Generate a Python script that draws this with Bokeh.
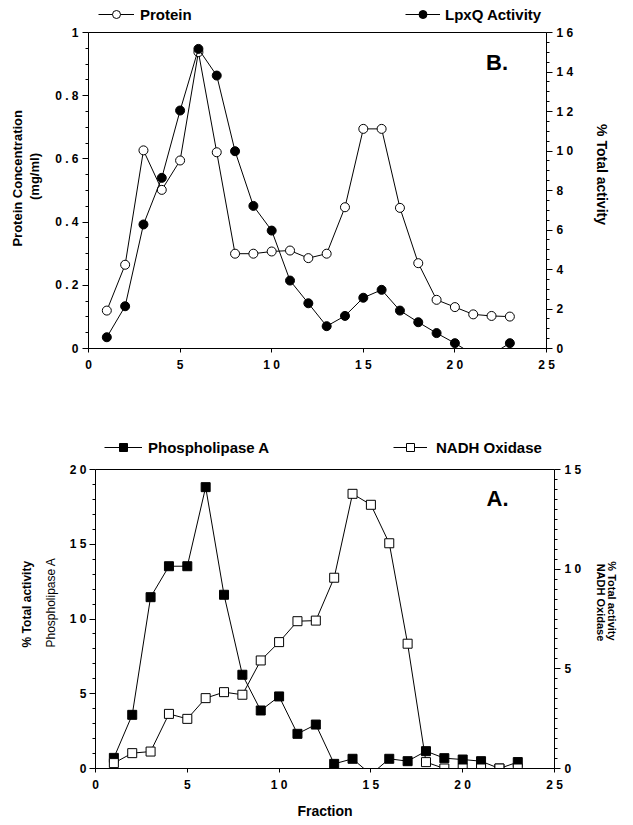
from bokeh.plotting import figure
from bokeh.models import Range1d, LinearAxis, FixedTicker, Legend, LegendItem, Label, Span, Spacer
from bokeh.layouts import column, row
from bokeh.embed import file_html
from bokeh.resources import INLINE

# ---------------- data ----------------
fractions = list(range(1, 24))
protein = [0.12, 0.265, 0.627, 0.502, 0.595, 0.938, 0.621, 0.30, 0.30, 0.307, 0.31, 0.286,
           0.30, 0.447, 0.695, 0.695, 0.445, 0.27, 0.154, 0.131, 0.108, 0.103, 0.101]
lpxq = [0.57, 2.14, 6.28, 8.64, 12.05, 15.17, 13.82, 9.99, 7.22, 5.97, 3.44, 2.29,
        1.13, 1.65, 2.57, 2.97, 1.92, 1.33, 0.78, 0.27, -0.3, -0.3, 0.27]
phospholipase = [0.71, 3.59, 11.46, 13.53, 13.53, 18.82, 11.62, 6.27, 3.88, 4.82, 2.32, 2.94,
                 0.31, 0.65, -0.4, 0.65, 0.49, 1.16, 0.69, 0.60, 0.49, 0.0, 0.43]
nadh = [0.27, 0.77, 0.85, 2.74, 2.49, 3.53, 3.83, 3.70, 5.42, 6.34, 7.39, 7.42,
        9.57, 13.78, 13.23, 11.30, 6.26, 0.32, 0.0, 0.0, 0.0, 0.0, 0.0]

x_ticks = [0, 5, 10, 15, 20, 25]
x_labels = ["0", "5", "1 0", "1 5", "2 0", "2 5"]
prot_ticks = [0, 0.2, 0.4, 0.6, 0.8, 1.0]
prot_labels = ["0", "0 . 2", "0 . 4", "0 . 6", "0 . 8", "1"]
act_ticks = [0, 2, 4, 6, 8, 10, 12, 14, 16]
act_labels = ["0", "2", "4", "6", "8", "1 0", "1 2", "1 4", "1 6"]
pla_ticks = [0, 5, 10, 15, 20]
pla_labels = ["0", "5", "1 0", "1 5", "2 0"]
nadh_ticks = [0, 5, 10, 15]
nadh_labels = ["0", "5", "1 0", "1 5"]

FONT = "Liberation Sans"


def style_axis(ax, ticks, labels, minor, tick_out=6):
    ax.ticker = FixedTicker(ticks=ticks, minor_ticks=minor)
    ax.bounds = (ticks[0], ticks[-1])
    ax.major_label_overrides = dict(zip(ticks, labels))
    ax.major_label_text_font = FONT
    ax.major_label_text_font_style = "bold"
    ax.major_label_text_font_size = "12px"
    ax.major_label_text_color = "black"
    ax.major_label_standoff = 4
    ax.axis_line_color = "black"
    ax.major_tick_line_color = "black"
    ax.minor_tick_line_color = "black"
    ax.major_tick_out = tick_out
    ax.major_tick_in = 0
    ax.minor_tick_out = 3
    ax.minor_tick_in = 0
    ax.axis_label_text_font = FONT
    ax.axis_label_text_font_style = "bold"
    ax.axis_label_text_font_size = "13px"
    ax.axis_label_text_color = "black"


def label_axis(text, standoff, style="bold", size="13px", **kw):
    ax = LinearAxis(ticker=FixedTicker(ticks=[]), axis_line_color=None,
                    major_tick_out=0, major_tick_in=0, minor_tick_out=0, minor_tick_in=0,
                    major_label_text_font_size="0px",
                    axis_label=text, axis_label_standoff=standoff,
                    axis_label_text_font=FONT, axis_label_text_font_style=style,
                    axis_label_text_font_size=size, axis_label_text_color="black", **kw)
    return ax


def make_legend(item, loc, glyph_width=36, standoff=6):
    return Legend(items=[item], location=loc, background_fill_alpha=0, border_line_color=None,
                  padding=0, margin=0, spacing=0, label_text_font=FONT,
                  label_text_font_style="bold", label_text_font_size="15px",
                  label_text_color="black", glyph_width=glyph_width, glyph_height=20,
                  label_standoff=standoff, label_height=20)


# ---------------- top panel (B) ----------------
# frame extends above the data box so the key sits inside it; axes are bounded to the data box
top_plot_h = 316          # pixel height of the 0..1 data box
top_frame_h = 344         # frame incl. key strip
y1_end = top_frame_h / top_plot_h

p1 = figure(frame_width=458, frame_height=top_frame_h, output_backend="svg", toolbar_location=None,
            x_range=Range1d(0, 25), y_range=Range1d(0, 1.0 * y1_end),
            min_border_left=88, min_border_right=77, min_border_top=4, min_border_bottom=40)
p1.extra_y_ranges = {"act": Range1d(0, 16 * y1_end)}
p1.xgrid.visible = False
p1.ygrid.visible = False
p1.outline_line_color = None
p1.background_fill_color = "white"

style_axis(p1.xaxis[0], x_ticks, x_labels, [], tick_out=4)
p1.xaxis[0].minor_tick_out = 0
p1.xaxis[0].major_label_standoff = 5
style_axis(p1.yaxis[0], prot_ticks, prot_labels, [i * 0.05 for i in range(21)])
p1.yaxis[0].axis_label = "(mg/ml)"
p1.yaxis[0].axis_label_standoff = 10
p1.add_layout(label_axis("Protein  Concentration", 0), "left")

ax_act = LinearAxis(y_range_name="act")
style_axis(ax_act, act_ticks, act_labels, [i * 0.5 for i in range(33)])
ax_act.axis_label = "% Total  activity"
ax_act.axis_label_text_font_size = "14px"
ax_act.axis_label_standoff = 18
p1.add_layout(ax_act, "right")
p1.add_layout(Span(location=1.0, dimension="width", line_color="black", line_width=1))

pl = p1.line(fractions, protein, line_color="black", line_width=1)
pm = p1.scatter(fractions, protein, marker="circle", size=9, fill_color="white", line_color="black")
ll = p1.line(fractions, lpxq, line_color="black", line_width=1, y_range_name="act")
lm = p1.scatter(fractions, lpxq, marker="circle", size=9, fill_color="black", line_color="black",
                y_range_name="act")

p1.add_layout(make_legend(LegendItem(label="Protein", renderers=[pl, pm]),
                          (10, top_frame_h - 20)))
p1.add_layout(make_legend(LegendItem(label="LpxQ Activity", renderers=[ll, lm]),
                          (317, top_frame_h - 20), glyph_width=35, standoff=5))
p1.add_layout(Label(x=22.3, y=0.905, text="B.", text_font=FONT, text_font_style="bold",
                    text_color="black", text_font_size="22px", text_align="center",
                    text_baseline="middle"))

# ---------------- bottom panel (A) ----------------
bot_plot_h = 299
bot_frame_h = 332
y2_end = bot_frame_h / bot_plot_h

p2 = figure(frame_width=459, frame_height=bot_frame_h, output_backend="svg", toolbar_location=None,
            x_range=Range1d(0, 25), y_range=Range1d(0, 20 * y2_end),
            min_border_left=88, min_border_right=70, min_border_top=48, min_border_bottom=50)
p2.extra_y_ranges = {"nadh": Range1d(0, 15 * y2_end)}
p2.xgrid.visible = False
p2.ygrid.visible = False
p2.outline_line_color = None
p2.background_fill_color = "white"

style_axis(p2.xaxis[0], x_ticks, x_labels, [], tick_out=4)
p2.xaxis[0].minor_tick_out = 0
p2.xaxis[0].major_label_standoff = 5
p2.xaxis[0].axis_label = "Fraction"
p2.xaxis[0].axis_label_text_font_size = "14px"
p2.xaxis[0].axis_label_standoff = 8
style_axis(p2.yaxis[0], pla_ticks, pla_labels, list(range(21)))
p2.yaxis[0].major_label_standoff = 3
p2.yaxis[0].axis_label = "Phospholipase A"
p2.yaxis[0].axis_label_text_font_style = "normal"
p2.yaxis[0].axis_label_text_font_size = "12px"
p2.yaxis[0].axis_label_standoff = 9
p2.add_layout(label_axis("% Total  activity", 7, size="12px"), "left")

ax_nadh = LinearAxis(y_range_name="nadh")
style_axis(ax_nadh, nadh_ticks, nadh_labels, [i * 0.5 for i in range(31)])
ax_nadh.axis_label = "NADH Oxidase"
ax_nadh.axis_label_standoff = 11
ax_nadh.axis_label_text_font_size = "11px"
p2.add_layout(ax_nadh, "right")
p2.add_layout(label_axis("% Total  activity", -5, size="11px", y_range_name="nadh"), "right")
p2.add_layout(Span(location=20, dimension="width", line_color="black", line_width=1))

fl = p2.line(fractions, phospholipase, line_color="black", line_width=1)
fm = p2.scatter(fractions, phospholipase, marker="square", size=9, fill_color="black", line_color="black")
nl = p2.line(fractions, nadh, line_color="black", line_width=1, y_range_name="nadh")
nm = p2.scatter(fractions, nadh, marker="square", size=9, fill_color="white", line_color="black",
                y_range_name="nadh")

p2.add_layout(make_legend(LegendItem(label="Phospholipase A", renderers=[fl, fm]),
                          (9, bot_frame_h - 21), glyph_width=38, standoff=6))
p2.add_layout(make_legend(LegendItem(label="NADH Oxidase", renderers=[nl, nm]),
                          (298, bot_frame_h - 21), glyph_width=34, standoff=9))
p2.add_layout(Label(x=21.9, y=18.06, text="A.", text_font=FONT, text_font_style="bold",
                    text_color="black", text_font_size="22px", text_align="center",
                    text_baseline="middle"))

layout = column(p1, row(Spacer(width=7, height=10), p2))
open("out.html", "w").write(file_html(layout, INLINE))
